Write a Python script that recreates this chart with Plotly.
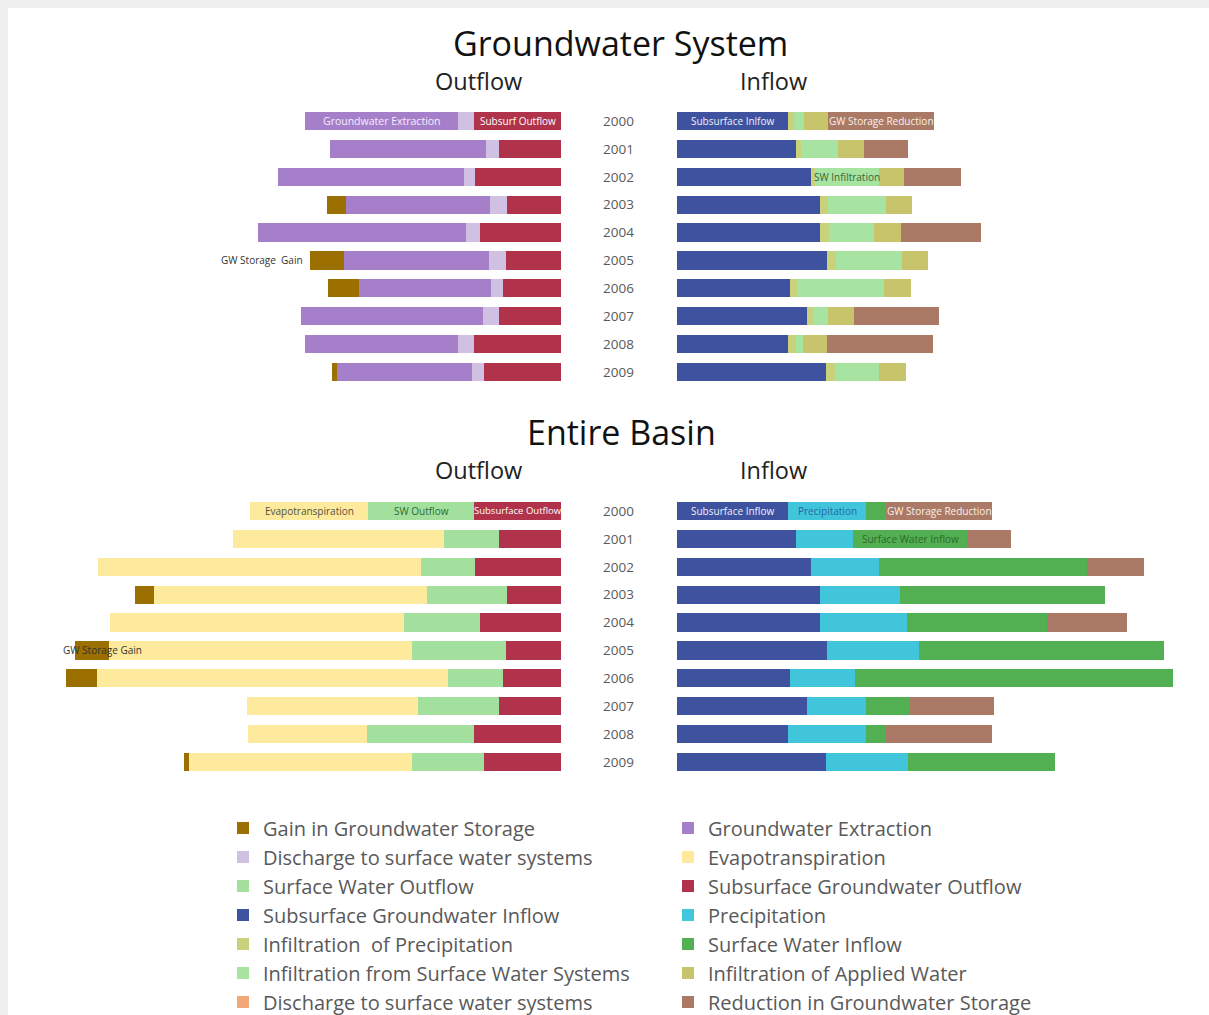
import plotly.graph_objects as go

years = ["2000", "2001", "2002", "2003", "2004", "2005", "2006", "2007", "2008", "2009"]

# Shared groundwater terms (appear in both systems)
subsurface_gw_outflow = [87, 62, 86, 54, 81, 55, 58, 62, 87, 77]
gain_gw_storage = [0, 0, 0, 19, 0, 34, 31, 0, 0, 5]
subsurface_gw_inflow = [111, 119, 134, 143, 143, 150, 113, 130, 111, 149]
reduction_gw_storage = [106, 44, 57, 0, 80, 0, 0, 85, 106, 0]

# Groundwater system only
gw_discharge_to_sw = [16, 13, 11, 17, 14, 17, 12, 16, 16, 12]
gw_extraction = [153, 156, 186, 144, 208, 145, 132, 182, 153, 135]
infiltration_precip = [6, 5, 4, 8, 9, 9, 7, 6, 8, 9]
infiltration_sw = [10, 37, 64, 58, 45, 66, 87, 15, 7, 44]
infiltration_applied = [24, 26, 25, 26, 27, 26, 27, 26, 24, 27]
discharge_sw_other = [0, 0, 0, 0, 0, 0, 0, 0, 0, 0]

# Entire basin only
sw_outflow = [106, 55, 54, 80, 76, 94, 55, 81, 107, 72]
evapotranspiration = [118, 211, 323, 273, 294, 303, 351, 171, 119, 223]
precipitation = [78, 57, 68, 80, 87, 92, 65, 59, 78, 82]
sw_inflow = [20, 114, 208, 205, 140, 245, 318, 43, 20, 147]

W, H = 1209, 1015
FONT = "Open Sans"
GREY = "#595959"


def px(x):
    return x / W


def py(y):
    return 1 - y / H


fig = go.Figure()
seen = set()


def add(name, key, values, color, xa, ya, rank):
    show = key not in seen
    seen.add(key)
    fig.add_trace(go.Bar(
        y=years, x=values, orientation="h", name=name, legendgroup=key,
        showlegend=show, legendrank=rank, marker=dict(color=color, line=dict(width=0)),
        xaxis=xa, yaxis=ya, hoverinfo="x+name",
    ))


C = dict(
    gain="#9b6f00", ext="#a67fcb", dis="#d0c1e2", et="#fdea9c", swo="#a3e09d",
    sgo="#b0324b", sgi="#3f52a0", pre="#40c5da", ipr="#c9d27a", swi="#52b052",
    isw="#a7e4a1", iap="#c8c46c", dio="#f3a87a", red="#aa7a67",
)

# Groundwater System - outflow (stack from the centre outward)
add("Subsurface Groundwater Outflow", "sgo", subsurface_gw_outflow, C["sgo"], "x", "y", 6)
add("Discharge to surface water systems", "dis", gw_discharge_to_sw, C["dis"], "x", "y", 3)
add("Groundwater Extraction", "ext", gw_extraction, C["ext"], "x", "y", 2)
add("Gain in Groundwater Storage", "gain", gain_gw_storage, C["gain"], "x", "y", 1)
# Groundwater System - inflow
add("Subsurface Groundwater Inflow", "sgi", subsurface_gw_inflow, C["sgi"], "x2", "y2", 7)
add("Infiltration  of Precipitation", "ipr", infiltration_precip, C["ipr"], "x2", "y2", 9)
add("Infiltration from Surface Water Systems", "isw", infiltration_sw, C["isw"], "x2", "y2", 11)
add("Infiltration of Applied Water", "iap", infiltration_applied, C["iap"], "x2", "y2", 12)
add("Reduction in Groundwater Storage", "red", reduction_gw_storage, C["red"], "x2", "y2", 14)
add("Discharge to surface water systems ", "dio", discharge_sw_other, C["dio"], "x2", "y2", 13)
# Entire Basin - outflow
add("Subsurface Groundwater Outflow", "sgo", subsurface_gw_outflow, C["sgo"], "x3", "y3", 6)
add("Surface Water Outflow", "swo", sw_outflow, C["swo"], "x3", "y3", 5)
add("Evapotranspiration", "et", evapotranspiration, C["et"], "x3", "y3", 4)
add("Gain in Groundwater Storage", "gain", gain_gw_storage, C["gain"], "x3", "y3", 1)
# Entire Basin - inflow
add("Subsurface Groundwater Inflow", "sgi", subsurface_gw_inflow, C["sgi"], "x4", "y4", 7)
add("Precipitation", "pre", precipitation, C["pre"], "x4", "y4", 8)
add("Surface Water Inflow", "swi", sw_inflow, C["swi"], "x4", "y4", 10)
add("Reduction in Groundwater Storage", "red", reduction_gw_storage, C["red"], "x4", "y4", 14)

STEP = 27.89
LEFT_DOM = [px(20), px(561)]
LEFT_RANGE = [541, 0]
RIGHT_DOM = [px(677), px(1200)]
RIGHT_RANGE = [0, 523]
TOP_DOM = [py(121 + 9.5 * STEP), py(121 - 0.5 * STEP)]
BOT_DOM = [py(511 + 9.5 * STEP), py(511 - 0.5 * STEP)]

xa = dict(visible=False, showgrid=False, zeroline=False, fixedrange=True)
ya_hidden = dict(type="category", range=[9.5, -0.5], showticklabels=False, showgrid=False,
                 zeroline=False, showline=False, ticks="")
ya_labels = dict(type="category", range=[9.5, -0.5], showticklabels=True, showgrid=False,
                 zeroline=False, showline=False, ticks="", ticklabelstandoff=42,
                 tickfont=dict(family=FONT, size=13.5, color=GREY))

fig.update_layout(
    xaxis=dict(xa, domain=LEFT_DOM, range=LEFT_RANGE, anchor="y"),
    yaxis=dict(ya_hidden, domain=TOP_DOM, anchor="x"),
    xaxis2=dict(xa, domain=RIGHT_DOM, range=RIGHT_RANGE, anchor="y2"),
    yaxis2=dict(ya_labels, domain=TOP_DOM, anchor="x2"),
    xaxis3=dict(xa, domain=LEFT_DOM, range=LEFT_RANGE, anchor="y3"),
    yaxis3=dict(ya_hidden, domain=BOT_DOM, anchor="x3"),
    xaxis4=dict(xa, domain=RIGHT_DOM, range=RIGHT_RANGE, anchor="y4"),
    yaxis4=dict(ya_labels, domain=BOT_DOM, anchor="x4"),
)

annotations = []


def title(text, x, y, size, color):
    annotations.append(dict(text=text, x=px(x), y=py(y), xref="paper", yref="paper",
                            showarrow=False, xanchor="center", yanchor="middle",
                            font=dict(family=FONT, size=size, color=color)))


title("Groundwater System", 620, 42.5, 34, "#111111")
title("Outflow", 478, 81, 23.5, "#222222")
title("Inflow", 773, 81, 23.5, "#222222")
title("Entire Basin", 621, 431.5, 34, "#111111")
title("Outflow", 478, 470, 23.5, "#222222")
title("Inflow", 773, 470, 23.5, "#222222")


def label(text, xr, yr, x, idx, color, size=10, anchor="center"):
    annotations.append(dict(text=text, x=x, y=idx, xref=xr, yref=yr, showarrow=False,
                            xanchor=anchor, yanchor="middle",
                            font=dict(family=FONT, size=size, color=color)))


i = 0  # year 2000
label("Groundwater Extraction", "x", "y",
      subsurface_gw_outflow[i] + gw_discharge_to_sw[i] + gw_extraction[i] / 2, i, "#f4eefa", 10.5)
label("Subsurf Outflow", "x", "y", subsurface_gw_outflow[i] / 2, i, "#ffffff", 10)
j = 5  # year 2005
label("GW Storage  Gain", "x", "y",
      subsurface_gw_outflow[j] + gw_discharge_to_sw[j] + gw_extraction[j] + gain_gw_storage[j] + 5,
      j, "#333333", 10, "right")

label("Subsurface Inlfow", "x2", "y2", subsurface_gw_inflow[i] / 2, i, "#eef0fa", 10)
label("GW Storage Reduction", "x2", "y2",
      subsurface_gw_inflow[i] + infiltration_precip[i] + infiltration_sw[i] + infiltration_applied[i]
      + reduction_gw_storage[i] / 2, i, "#fbf0e8", 10)
k = 2  # year 2002
label("SW Infiltration", "x2", "y2",
      subsurface_gw_inflow[k] + infiltration_precip[k] + infiltration_sw[k] / 2, k, "#3b653b", 10)

label("Evapotranspiration", "x3", "y3",
      subsurface_gw_outflow[i] + sw_outflow[i] + evapotranspiration[i] / 2, i, "#54503c", 10)
label("SW Outflow", "x3", "y3", subsurface_gw_outflow[i] + sw_outflow[i] / 2, i, "#2f6a3a", 10)
label("Subsurface Outflow", "x3", "y3", subsurface_gw_outflow[i] / 2, i, "#ffffff", 9.5)
label("GW Storage Gain", "x3", "y3",
      subsurface_gw_outflow[j] + sw_outflow[j] + evapotranspiration[j] + gain_gw_storage[j] + 14,
      j, "#333333", 10, "left")

label("Subsurface Inflow", "x4", "y4", subsurface_gw_inflow[i] / 2, i, "#eef0fa", 10)
label("Precipitation", "x4", "y4", subsurface_gw_inflow[i] + precipitation[i] / 2, i, "#2b66a6", 10)
label("GW Storage Reduction", "x4", "y4",
      subsurface_gw_inflow[i] + precipitation[i] + sw_inflow[i] + reduction_gw_storage[i] / 2,
      i, "#fbf0e8", 10)
m = 1  # year 2001
label("Surface Water Inflow", "x4", "y4",
      subsurface_gw_inflow[m] + precipitation[m] + sw_inflow[m] / 2, m, "#2d682d", 10)

shapes = [
    dict(type="rect", xref="paper", yref="paper", x0=0, x1=px(8), y0=0, y1=1,
         fillcolor="#f0f0f0", line=dict(width=0), layer="above"),
    dict(type="rect", xref="paper", yref="paper", x0=0, x1=1, y0=py(8), y1=1,
         fillcolor="#f0f0f0", line=dict(width=0), layer="above"),
]

fig.update_layout(
    width=W, height=H, margin=dict(l=0, r=0, t=0, b=0, pad=0, autoexpand=False),
    paper_bgcolor="#ffffff", plot_bgcolor="rgba(0,0,0,0)",
    barmode="stack", bargap=0.35,
    annotations=annotations, shapes=shapes,
    font=dict(family=FONT, color=GREY),
    legend=dict(orientation="h", x=px(223), y=py(808.5), xanchor="left", yanchor="top",
                entrywidth=400, entrywidthmode="pixels", traceorder="normal",
                font=dict(family=FONT, size=20, color=GREY), bgcolor="rgba(0,0,0,0)"),
)

fig.write_html("out.html", config={"displayModeBar": False},
               post_script="document.body.style.margin='0';document.body.style.overflow='hidden';")
